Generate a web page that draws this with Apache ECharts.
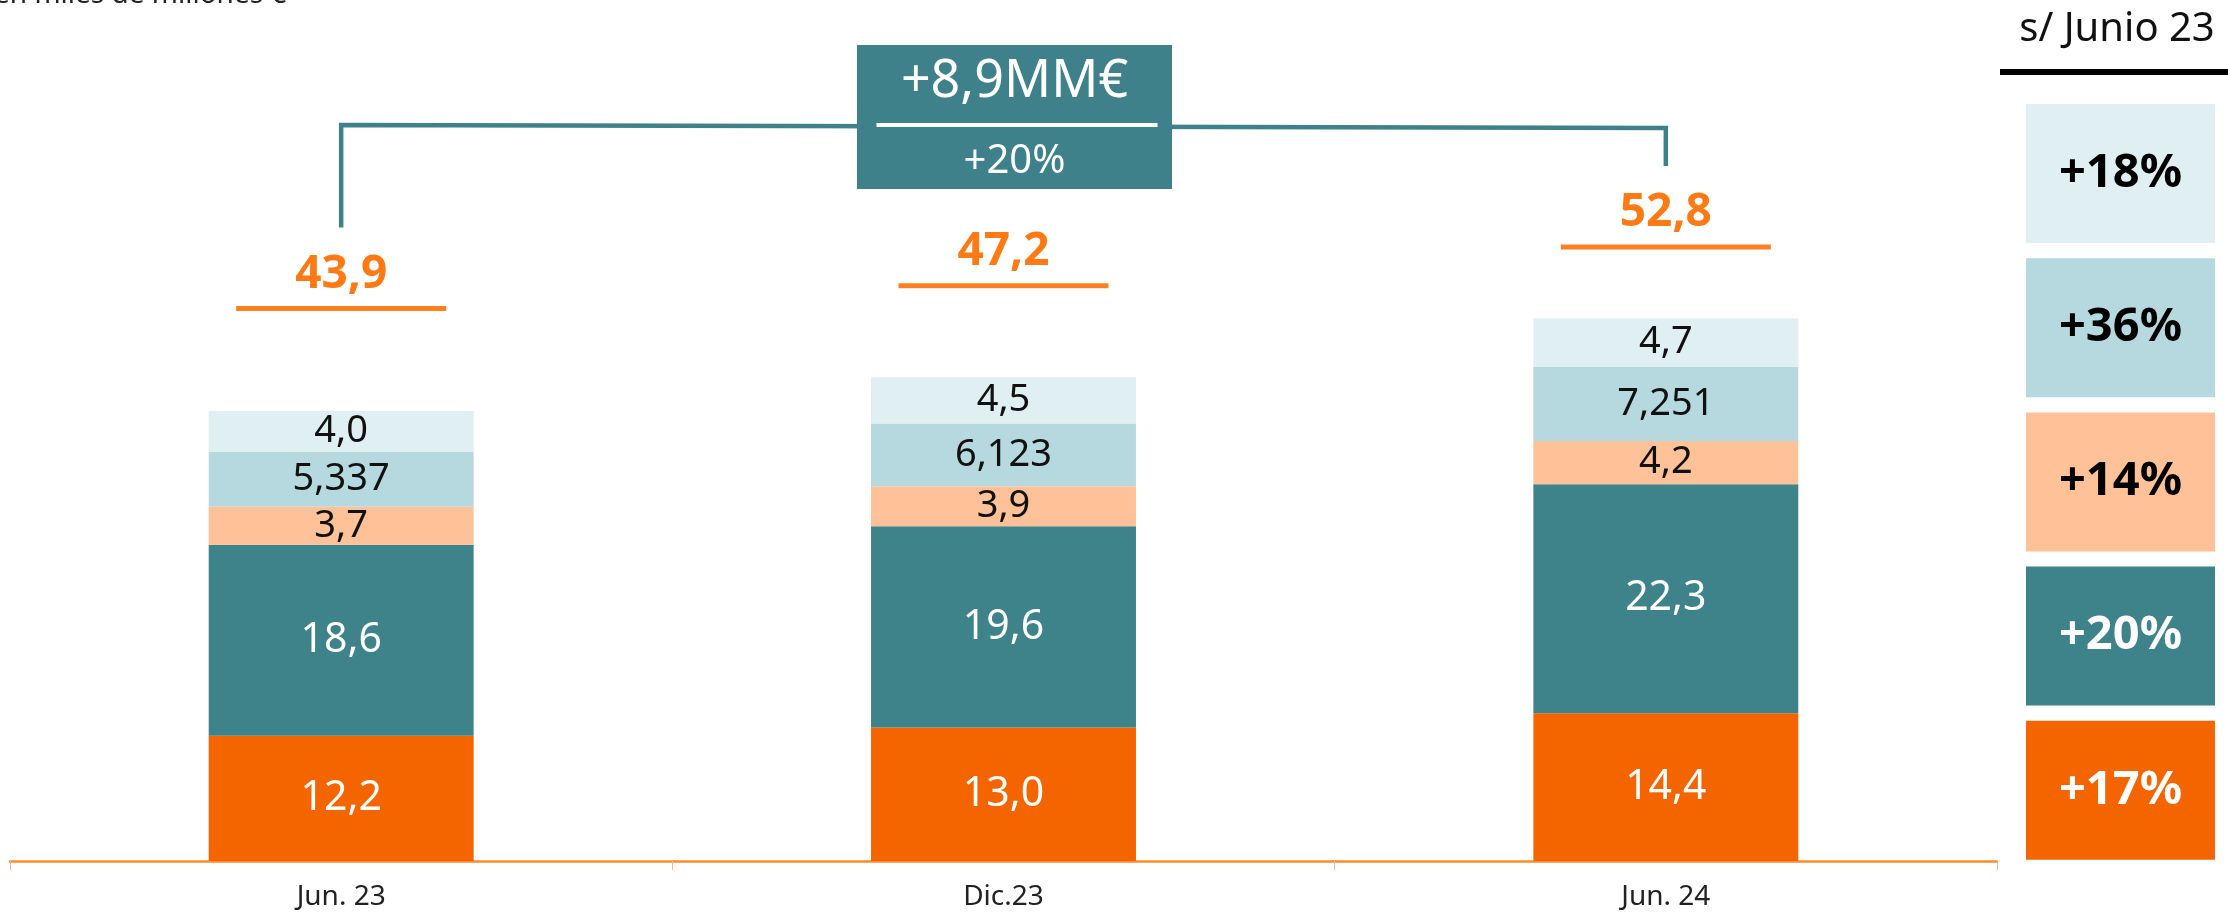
<!DOCTYPE html>
<html>
<head>
<meta charset="utf-8">
<script src="https://cdn.jsdelivr.net/npm/echarts@6/dist/echarts.min.js"></script>
<style>
  html, body { margin: 0; padding: 0; background: #ffffff; }
  #chartBar { width: 2228px; height: 913px; }
</style>
</head>
<body>
<div id="chartBar"></div>
<script>
// datos del gráfico (en miles de millones €)
const categories = ["Jun. 23", "Dic.23", "Jun. 24"];
const naranja = [12.2, 13.0, 14.4];
const verde = [18.6, 19.6, 22.3];
const melocoton = [3.7, 3.9, 4.2];
const azul = [5.337, 6.123, 7.251];
const azulClaro = [4.0, 4.5, 4.7];
const totales = [43.9, 47.2, 52.8];
// variación s/ Junio 23, de abajo arriba (mismo orden que las series)
const variaciones = ["+17%", "+20%", "+14%", "+36%", "+18%"];
const crecimiento = "+8,9MM€";
const crecimientoPct = "+20%";
const nota = "en miles de millones €";
const tituloPanel = "s/ Junio 23";

const FONT = '"Noto Sans", "Open Sans", sans-serif';
const colores = ["#F46500", "#3E828A", "#FEC198", "#B6D9DF", "#E0EFF2"];
const colorTexto = ["#ffffff", "#ffffff", "#111111", "#111111", "#111111"];
const tamTexto = [41, 41, 38, 38, 38];

// formato español: coma decimal, mínimo un decimal
function fmt(v) {
  const s = String(v);
  const d = s.indexOf(".") >= 0 ? s.split(".")[1].length : 0;
  return v.toFixed(Math.max(1, d)).replace(".", ",");
}

// las etiquetas de total van en una franja comprimida sobre las barras
function lineaTotal(topY) {
  return 98 + 0.674 * (topY - 98);
}

const valores = [naranja, verde, melocoton, azul, azulClaro];

const series = valores.map((data, i) => ({
  type: "bar",
  stack: "total",
  barWidth: "40%",
  data: data,
  itemStyle: { color: colores[i] },
  label: {
    show: true,
    position: "inside",
    color: colorTexto[i],
    fontFamily: FONT,
    fontSize: tamTexto[i],
    formatter: (p) => fmt(p.value),
  },
}));

// totales con subrayado
series.push({
  type: "custom",
  data: totales.map((t, i) => [i, t]),
  z: 10,
  silent: true,
  renderItem: (params, api) => {
    const pt = api.coord([api.value(0), api.value(1)]);
    const ly = lineaTotal(pt[1]);
    return {
      type: "group",
      children: [
        {
          type: "rect",
          shape: { x: pt[0] - 105, y: ly - 2.5, width: 210, height: 5 },
          style: { fill: "#FF8020" },
        },
        {
          type: "text",
          x: pt[0],
          y: ly - 34,
          style: {
            text: fmt(api.value(1)),
            align: "center",
            verticalAlign: "middle",
            fontFamily: FONT,
            fontWeight: "bold",
            fontSize: 46,
            fill: "#FF7A14",
          },
        },
      ],
    };
  },
});

const option = {
  animation: false,
  grid: { left: 10, right: 231, top: 245, bottom: 52 },
  xAxis: {
    type: "category",
    data: categories,
    axisLine: { lineStyle: { color: "#FF8A2E", width: 2.5 } },
    axisTick: { show: true, length: 9, lineStyle: { color: "#FFB47E", width: 1 } },
    axisLabel: { color: "#222222", fontFamily: FONT, fontSize: 28, margin: 22 },
  },
  yAxis: {
    type: "value",
    min: 0,
    max: 60,
    show: false,
    splitLine: { show: false },
  },
  series: series,
};

const myChart = echarts.init(document.getElementById("chartBar"));
myChart.setOption(option);

// corchete de crecimiento y panel lateral
const pIni = myChart.convertToPixel({ gridIndex: 0 }, [0, totales[0]]);
const pFin = myChart.convertToPixel({ gridIndex: 0 }, [2, totales[2]]);
const bajoIni = lineaTotal(pIni[1]) - 81;
const bajoFin = lineaTotal(pFin[1]) - 81;
const cajaX = (pIni[0] + pFin[0]) / 2 + 11;

const graficos = [
  {
    type: "text",
    x: -6,
    y: -5,
    style: { text: nota, fontFamily: FONT, fontSize: 28, fill: "#222222", verticalAlign: "middle" },
  },
  {
    type: "polyline",
    shape: { points: [[pIni[0], bajoIni], [pIni[0], 125], [pFin[0], 128], [pFin[0], bajoFin]] },
    style: { stroke: "#3E818A", lineWidth: 4.5, fill: null },
  },
  {
    type: "rect",
    shape: { x: cajaX - 157.5, y: 45, width: 315, height: 144 },
    style: { fill: "#3E818A" },
  },
  {
    type: "text",
    x: cajaX,
    y: 82,
    style: { text: crecimiento, align: "center", verticalAlign: "middle", fontFamily: FONT, fontSize: 52, fill: "#ffffff" },
  },
  {
    type: "rect",
    shape: { x: cajaX - 138, y: 123, width: 281, height: 4 },
    style: { fill: "#ffffff" },
  },
  {
    type: "text",
    x: cajaX,
    y: 162,
    style: { text: crecimientoPct, align: "center", verticalAlign: "middle", fontFamily: FONT, fontSize: 40, fill: "#ffffff" },
  },
  {
    type: "text",
    x: 2117,
    y: 30,
    style: { text: tituloPanel, align: "center", verticalAlign: "middle", fontFamily: FONT, fontSize: 40, fill: "#111111" },
  },
  {
    type: "rect",
    shape: { x: 2000, y: 69, width: 228, height: 6 },
    style: { fill: "#000000" },
  },
];

// cajas del panel: de arriba abajo (orden inverso a las series)
for (let k = 0; k < variaciones.length; k++) {
  const i = variaciones.length - 1 - k;
  const top = 104 + k * 154.2;
  graficos.push({
    type: "rect",
    shape: { x: 2026, y: top, width: 189, height: 139 },
    style: { fill: colores[i] },
  });
  graficos.push({
    type: "text",
    x: 2120.5,
    y: top + 69.5,
    style: {
      text: variaciones[i],
      align: "center",
      verticalAlign: "middle",
      fontFamily: FONT,
      fontWeight: "bold",
      fontSize: 47,
      fill: colorTexto[i] === "#ffffff" ? "#ffffff" : "#000000",
    },
  });
}

myChart.setOption({ graphic: graficos });
</script>
</body>
</html>
